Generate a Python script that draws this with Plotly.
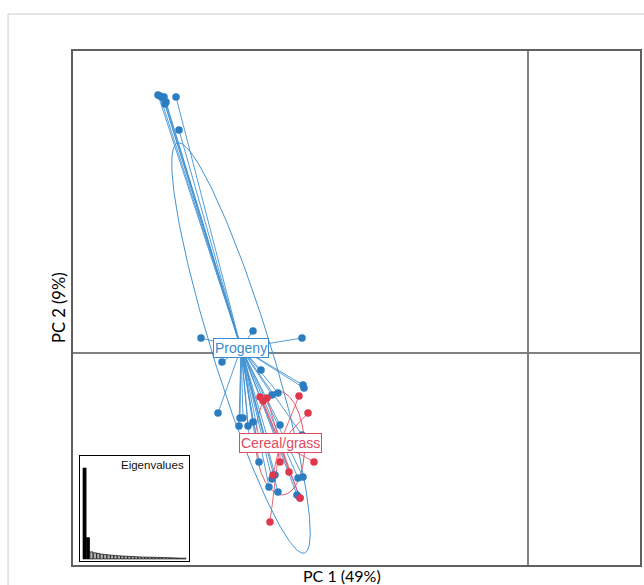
import numpy as np
import plotly.graph_objects as go

# ---------------- data ----------------
GROUPS = ["Progeny", "Cereal/grass"]

PROGENY_PC1 = [-18.5, -18.4, -18.2, -17.6, -18.15, -18.1, -17.45, -18.25,
               -16.35, -13.75, -11.3, -15.3, -13.35, -15.5,
               -14.4, -14.25, -14.45, -14.0, -13.75, -12.8, -12.5, -11.25, -11.2,
               -12.4, -11.3, -13.45, -12.8, -12.65, -12.95, -12.5, -11.5, -11.25,
               -11.55, -11.4, -13.9, -13.5, -13.15, -12.9]
PROGENY_PC2 = [12.9, 12.85, 12.8, 12.8, 12.45, 12.55, 11.15, 12.75,
               0.75, 1.1, 0.75, -0.45, -0.85, -3.0,
               -3.25, -3.25, -3.65, -3.65, -3.45, -2.1, -2.0, -1.6, -1.75,
               -3.6, -4.1, -5.45, -6.3, -6.1, -6.7, -6.95, -6.25, -6.2,
               -7.1, -7.25, -4.6, -4.75, -4.35, -4.65]

CEREAL_PC1 = [-13.4, -13.05, -13.25, -11.45, -11.0, -10.7, -11.95, -12.4, -12.75, -11.4, -12.9]
CEREAL_PC2 = [-2.2, -2.25, -2.4, -2.15, -3.0, -5.45, -5.95, -5.45, -6.1, -7.25, -8.45]

CENTER_PC1 = [-14.35, -12.4]
CENTER_PC2 = [0.25, -4.5]
ELLIPSE_MAJOR = [10.73, 2.6]
ELLIPSE_MINOR = [1.45, 1.22]
ELLIPSE_ANGLE_DEG = [-72.8, -87.2]

EIGEN_PCT = [49, 11.5, 3.8, 3.3, 3.0, 2.6, 2.4, 2.2, 2.0, 1.9, 1.7, 1.6, 1.5, 1.4, 1.3,
             1.2, 1.1, 1.05, 1.0, 0.95, 0.9, 0.85, 0.8, 0.75, 0.7, 0.65, 0.6, 0.5, 0.45, 0.4]
N_SELECTED_AXES = 2

X_TITLE = "PC 1 (49%)"
Y_TITLE = "PC 2 (9%)"
INSET_TITLE = "Eigenvalues"

# ---------------- layout geometry (page pixels) ----------------
W, H = 644, 585
FRAME_L, FRAME_R, FRAME_T, FRAME_B = 73, 640, 51, 565
ML, MT = FRAME_L, FRAME_T
MR, MB = W - FRAME_R, H - FRAME_B
PW, PH = W - ML - MR, H - MT - MB
ORIGIN_X, ORIGIN_Y, SCALE = 528, 353, 20.0

BLUE_PT = "#2a7dc0"
BLUE_LN = "#4393d2"
RED_PT = "#e0374c"
RED_LN = "#e4566a"
PT_COLORS = [BLUE_PT, RED_PT]
LN_COLORS = [BLUE_LN, RED_LN]
LABEL_COLORS = ["#3a8bcd", "#e04a5e"]


def px_x(p):
    return (p - FRAME_L) / PW


def px_y(p):
    return (FRAME_B - p) / PH


groups_pc1 = [PROGENY_PC1, CEREAL_PC1]
groups_pc2 = [PROGENY_PC2, CEREAL_PC2]

fig = go.Figure()

# ellipses
t = np.linspace(0, 2 * np.pi, 241)
for g in range(len(GROUPS)):
    th = np.deg2rad(ELLIPSE_ANGLE_DEG[g])
    a, b = ELLIPSE_MAJOR[g], ELLIPSE_MINOR[g]
    ex = CENTER_PC1[g] + a * np.cos(t) * np.cos(th) - b * np.sin(t) * np.sin(th)
    ey = CENTER_PC2[g] + a * np.cos(t) * np.sin(th) + b * np.sin(t) * np.cos(th)
    fig.add_trace(go.Scatter(x=ex, y=ey, mode="lines",
                             line=dict(color=LN_COLORS[g], width=1),
                             hoverinfo="skip", showlegend=False))

# spokes
for g in range(len(GROUPS)):
    sx, sy = [], []
    for x, y in zip(groups_pc1[g], groups_pc2[g]):
        sx += [CENTER_PC1[g], x, None]
        sy += [CENTER_PC2[g], y, None]
    fig.add_trace(go.Scatter(x=sx, y=sy, mode="lines",
                             line=dict(color=LN_COLORS[g], width=0.9),
                             hoverinfo="skip", showlegend=False))

# points
for g in range(len(GROUPS)):
    fig.add_trace(go.Scatter(x=groups_pc1[g], y=groups_pc2[g], mode="markers",
                             marker=dict(color=PT_COLORS[g], size=7.5, line=dict(width=0)),
                             hoverinfo="skip", showlegend=False))

# group labels
for g in range(len(GROUPS)):
    fig.add_annotation(x=CENTER_PC1[g], y=CENTER_PC2[g], text=GROUPS[g],
                       showarrow=False, xref="x", yref="y",
                       font=dict(family="Liberation Sans, Arial", size=14, color=LABEL_COLORS[g]),
                       bgcolor="white", bordercolor=LABEL_COLORS[g], borderwidth=1, borderpad=1)

# eigenvalue inset
bar_colors = ["black" if i < N_SELECTED_AXES else "#b5b5b5" for i in range(len(EIGEN_PCT))]
fig.add_trace(go.Bar(x=list(range(len(EIGEN_PCT))), y=EIGEN_PCT, xaxis="x2", yaxis="y2",
                     marker=dict(color=bar_colors, line=dict(color="black", width=0.7)),
                     hoverinfo="skip", showlegend=False))
fig.add_annotation(text=INSET_TITLE, xref="x2 domain", yref="y2 domain", x=0.975, y=0.915,
                   xanchor="right", yanchor="middle", showarrow=False,
                   font=dict(family="Liberation Sans, Arial", size=11.5, color="#111"))

fig.update_layout(
    width=W, height=H,
    margin=dict(l=ML, r=MR, t=MT, b=MB),
    paper_bgcolor="white", plot_bgcolor="white",
    template="none",
    showlegend=False,
    hovermode=False,
    bargap=0.1,
    xaxis=dict(range=[(FRAME_L - ORIGIN_X) / SCALE, (FRAME_R - ORIGIN_X) / SCALE], showgrid=False,
               showticklabels=False, ticks="", zeroline=True, zerolinecolor="#808080",
               zerolinewidth=2, showline=True, mirror=True, linecolor="#606060", linewidth=1.5),
    yaxis=dict(range=[(ORIGIN_Y - FRAME_B) / SCALE, (ORIGIN_Y - FRAME_T) / SCALE], showgrid=False,
               showticklabels=False, ticks="", zeroline=True, zerolinecolor="#808080",
               zerolinewidth=2, showline=True, mirror=True, linecolor="#606060", linewidth=1.5),
    xaxis2=dict(domain=[px_x(80), px_x(189)], anchor="y2", range=[-1.32, 30.32],
                showgrid=False, showticklabels=False, ticks="", zeroline=False,
                showline=True, mirror=True, linecolor="black", linewidth=1),
    yaxis2=dict(domain=[px_y(561), px_y(456)], anchor="x2", range=[-1.1, 55.5],
                showgrid=False, showticklabels=False, ticks="", zeroline=False,
                showline=True, mirror=True, linecolor="black", linewidth=1),
)

# axis titles
fig.add_annotation(text=X_TITLE, xref="paper", yref="paper", x=px_x(342), y=px_y(575.5),
                   xanchor="center", yanchor="middle", showarrow=False,
                   font=dict(family="Lato, Open Sans", size=16, color="black"))
fig.add_annotation(text=Y_TITLE, xref="paper", yref="paper", x=px_x(59), y=px_y(308),
                   xanchor="center", yanchor="middle", showarrow=False, textangle=-90,
                   font=dict(family="Lato, Open Sans", size=16.5, color="black"))

# light outer border (left and top)
fig.add_shape(type="line", xref="paper", yref="paper", x0=px_x(8), x1=px_x(8),
              y0=px_y(14), y1=px_y(600), line=dict(color="#cccccc", width=1))
fig.add_shape(type="line", xref="paper", yref="paper", x0=px_x(8), x1=px_x(660),
              y0=px_y(14), y1=px_y(14), line=dict(color="#cccccc", width=1))

fig.write_html("out.html", config={"displayModeBar": False},
               post_script="document.body.style.margin='0';")
